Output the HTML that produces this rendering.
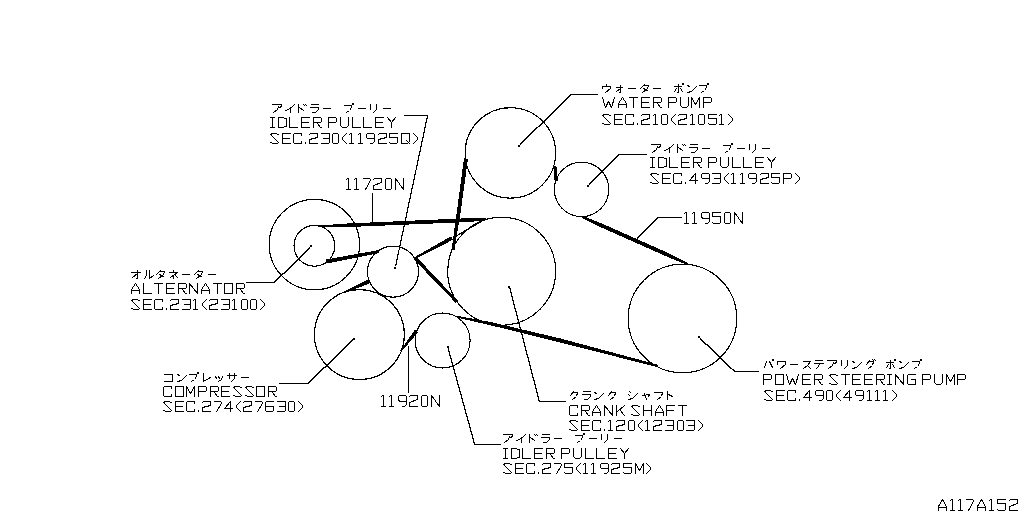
<!DOCTYPE html><html><head><meta charset="utf-8"><style>html,body{margin:0;padding:0;background:#fff;width:1024px;height:512px;overflow:hidden;font-family:"Liberation Sans",sans-serif;}svg{display:block}</style></head><body>
<svg width="1024" height="512" viewBox="0 0 1024 512">
<rect width="1024" height="512" fill="#fff"/>
<g fill="none" stroke="#000" stroke-width="1.15" shape-rendering="crispEdges">
<circle cx="314.4" cy="244.6" r="45.2"/>
<circle cx="314.4" cy="245.8" r="20.4"/>
<circle cx="393" cy="271.7" r="25.5"/>
<circle cx="510.4" cy="152.9" r="45.2"/>
<circle cx="581.6" cy="189.4" r="27.2"/>
<circle cx="501.7" cy="271.2" r="54"/>
<circle cx="682.5" cy="318.5" r="54.3"/>
<circle cx="359.4" cy="334.6" r="45"/>
<circle cx="442.6" cy="340.5" r="27.5"/>
</g>
<g fill="none" stroke="#000" stroke-width="1.45" shape-rendering="crispEdges">
<line x1="404" y1="115.5" x2="427.6" y2="115.5" stroke-width="1.000" stroke-linecap="square"/>
<line x1="427.6" y1="115.5" x2="395.757" y2="265.348" stroke-width="1.186" stroke-linecap="square"/>
<line x1="597.5" y1="94.5" x2="570.9" y2="94.5" stroke-width="1.000" stroke-linecap="square"/>
<line x1="570.9" y1="94.5" x2="520.465" y2="144.353" stroke-width="1.414" stroke-linecap="square"/>
<line x1="646.8" y1="154.5" x2="619.2" y2="154.5" stroke-width="1.000" stroke-linecap="square"/>
<line x1="619.2" y1="154.5" x2="589.361" y2="184.149" stroke-width="1.414" stroke-linecap="square"/>
<line x1="681.7" y1="217.5" x2="658.3" y2="217.5" stroke-width="1.000" stroke-linecap="square"/>
<line x1="658.3" y1="217.5" x2="637.2" y2="238" stroke-width="1.414" stroke-linecap="square"/>
<line x1="372.5" y1="193.5" x2="372.5" y2="221.8" stroke-width="1.000" stroke-linecap="square"/>
<line x1="246.2" y1="282.5" x2="274.4" y2="282.5" stroke-width="1.000" stroke-linecap="square"/>
<line x1="274.4" y1="282.5" x2="309.534" y2="247.845" stroke-width="1.414" stroke-linecap="square"/>
<line x1="279.2" y1="383.5" x2="308.2" y2="383.5" stroke-width="1.000" stroke-linecap="square"/>
<line x1="308.2" y1="383.5" x2="352.329" y2="340.24" stroke-width="1.414" stroke-linecap="square"/>
<line x1="408.5" y1="346" x2="408.5" y2="392.3" stroke-width="1.000" stroke-linecap="square"/>
<line x1="500.5" y1="444.5" x2="474.7" y2="444.5" stroke-width="1.000" stroke-linecap="square"/>
<line x1="474.7" y1="444.5" x2="448.285" y2="348.721" stroke-width="1.230" stroke-linecap="square"/>
<line x1="565.6" y1="401.5" x2="539.4" y2="401.5" stroke-width="1.000" stroke-linecap="square"/>
<line x1="539.4" y1="401.5" x2="509.956" y2="288.729" stroke-width="1.220" stroke-linecap="square"/>
<line x1="758.7" y1="371.5" x2="734.6" y2="371.5" stroke-width="1.000" stroke-linecap="square"/>
<line x1="734.6" y1="371.5" x2="700.386" y2="338.624" stroke-width="1.414" stroke-linecap="square"/>
</g>
<g fill="#000" stroke="none" shape-rendering="crispEdges">
<polygon points="318.04,227.40 345.08,227.20 468.08,222.00 486.05,220.40 485.95,218.20 467.92,218.20 344.92,223.60 317.96,225.60"/>
<polygon points="326.87,263.46 379.28,252.97 378.72,250.03 326.13,259.54"/>
<polygon points="415.48,258.88 452.95,239.76 451.05,236.24 414.52,257.12"/>
<polygon points="413.70,259.24 455.91,303.04 458.09,300.96 416.30,256.76"/>
<polygon points="464.02,158.23 457.12,209.73 451.52,249.78 454.48,250.22 460.88,210.27 467.98,158.77"/>
<polygon points="455.83,237.06 484.33,220.36 483.67,219.24 455.17,235.94"/>
<polygon points="553.21,166.15 554.61,181.15 557.79,180.85 556.39,165.85"/>
<polygon points="582.05,218.00 599.23,226.54 669.23,257.64 687.55,265.00 688.45,263.00 670.77,254.16 600.77,223.06 582.95,216.00"/>
<polygon points="454.84,317.08 489.64,325.06 559.51,342.34 657.70,367.16 658.30,364.84 560.49,338.46 490.36,321.94 455.16,315.52"/>
<polygon points="345.32,292.73 369.80,283.33 368.20,279.67 344.68,291.27"/>
<polygon points="401.63,351.49 418.08,332.23 414.92,329.77 400.37,350.51"/>
</g>
<g fill="#000" shape-rendering="crispEdges">
<rect x="394" y="267" width="2" height="2"/>
<rect x="518" y="145" width="2" height="2"/>
<rect x="587" y="185" width="2" height="2"/>
<rect x="310" y="245" width="2" height="2"/>
<rect x="353" y="338" width="2" height="2"/>
<rect x="447" y="346" width="2" height="2"/>
<rect x="508" y="286" width="2" height="2"/>
<rect x="698" y="336" width="2" height="2"/>
</g>
<path fill="none" stroke="#000" stroke-width="1" stroke-linecap="square" stroke-linejoin="bevel" shape-rendering="crispEdges" d="M272.5 104.5 L281.5 104.5 L281.5 106.5 L279.5 107.5 M278.5 106.5 L277.5 109.5 L273.5 112.5 M294.5 104.5 L290.5 108.5 L285.5 110.5 M290.5 107.5 L290.5 112.5 M298.5 104.5 L298.5 112.5 M299.5 107.5 L303.5 110.5 M303.5 104.5 L304.5 105.5 M305.5 104.5 L306.5 105.5 M311.5 104.5 L318.5 104.5 M310.5 107.5 L318.5 107.5 L318.5 109.5 L315.5 112.5 L312.5 112.5 M323.5 108.5 L330.5 108.5 M344.5 105.5 L351.5 105.5 L351.5 107.5 L349.5 110.5 L346.5 112.5 M352.5 103.5 L353.5 103.5 L353.5 104.5 L352.5 104.5 L352.5 103.5 M358.5 108.5 L365.5 108.5 M370.5 104.5 L370.5 109.5 M376.5 104.5 L376.5 109.5 L373.5 112.5 M383.5 108.5 L390.5 108.5 M270.5 117.5 L274.5 117.5 M272.5 117.5 L272.5 127.5 M270.5 127.5 L274.5 127.5 M278.5 117.5 L283.5 117.5 L284.5 118.5 L286.5 118.5 L286.5 126.5 L284.5 126.5 L283.5 127.5 L278.5 127.5 L278.5 117.5 M289.5 117.5 L289.5 127.5 L297.5 127.5 M309.5 117.5 L301.5 117.5 L301.5 127.5 L309.5 127.5 M301.5 122.5 L308.5 122.5 M313.5 127.5 L313.5 117.5 L320.5 117.5 L321.5 118.5 L321.5 121.5 L320.5 122.5 L313.5 122.5 M317.5 123.5 L320.5 127.5 L321.5 127.5 M328.5 127.5 L328.5 117.5 L335.5 117.5 L336.5 118.5 L336.5 121.5 L335.5 122.5 L328.5 122.5 M340.5 117.5 L340.5 125.5 L342.5 127.5 L346.5 127.5 L348.5 125.5 L348.5 117.5 M352.5 117.5 L352.5 127.5 L360.5 127.5 M363.5 117.5 L363.5 127.5 L371.5 127.5 M383.5 117.5 L375.5 117.5 L375.5 127.5 L383.5 127.5 M375.5 122.5 L382.5 122.5 M387.5 117.5 L391.5 122.5 L395.5 117.5 M391.5 122.5 L391.5 127.5 M278.5 134.5 L277.5 134.5 M276.5 133.5 L272.5 133.5 L270.5 134.5 L271.5 135.5 L277.5 141.5 L278.5 142.5 L277.5 143.5 L272.5 143.5 M270.5 142.5 L271.5 142.5 M290.5 133.5 L282.5 133.5 L282.5 143.5 L290.5 143.5 M282.5 138.5 L289.5 138.5 M301.5 135.5 L301.5 133.5 L294.5 133.5 L293.5 134.5 L293.5 142.5 L294.5 143.5 L301.5 143.5 L301.5 141.5 M305.5 142.5 L305.5 143.5 M309.5 134.5 L310.5 133.5 L317.5 133.5 L317.5 137.5 L309.5 139.5 L309.5 143.5 L317.5 143.5 M321.5 133.5 L329.5 133.5 L329.5 142.5 L328.5 143.5 L321.5 143.5 M323.5 138.5 L329.5 138.5 M333.5 133.5 L337.5 133.5 L338.5 134.5 L338.5 142.5 L337.5 143.5 L333.5 143.5 L332.5 142.5 L332.5 134.5 L333.5 133.5 M346.5 133.5 L342.5 137.5 L342.5 139.5 L346.5 143.5 M349.5 134.5 L350.5 133.5 L351.5 133.5 L351.5 143.5 M349.5 143.5 L353.5 143.5 M358.5 134.5 L359.5 133.5 L360.5 133.5 L360.5 143.5 M358.5 143.5 L362.5 143.5 M367.5 133.5 L373.5 133.5 L374.5 134.5 L374.5 141.5 L372.5 143.5 L370.5 143.5 M367.5 133.5 L366.5 134.5 L366.5 137.5 L367.5 138.5 L374.5 138.5 M378.5 134.5 L379.5 133.5 L386.5 133.5 L386.5 137.5 L378.5 139.5 L378.5 143.5 L386.5 143.5 M397.5 133.5 L389.5 133.5 L389.5 137.5 L397.5 137.5 L397.5 142.5 L396.5 143.5 L390.5 143.5 L389.5 142.5 M401.5 133.5 L409.5 133.5 L409.5 141.5 L407.5 143.5 L401.5 143.5 L401.5 133.5 M406.5 140.5 L409.5 143.5 M413.5 133.5 L417.5 137.5 L417.5 139.5 L413.5 143.5 M606.5 84.5 L606.5 85.5 M602.5 88.5 L602.5 86.5 L610.5 86.5 L610.5 88.5 L605.5 92.5 M616.5 87.5 L622.5 87.5 M620.5 85.5 L620.5 92.5 L619.5 92.5 M620.5 88.5 L616.5 91.5 M628.5 88.5 L635.5 88.5 M644.5 84.5 L640.5 88.5 M643.5 85.5 L648.5 85.5 L647.5 88.5 L642.5 92.5 M643.5 88.5 L647.5 90.5 M653.5 88.5 L660.5 88.5 M674.5 86.5 L681.5 86.5 M678.5 84.5 L678.5 92.5 L677.5 92.5 M676.5 88.5 L674.5 91.5 M680.5 88.5 L682.5 91.5 M682.5 83.5 L683.5 83.5 L683.5 84.5 L682.5 84.5 L682.5 83.5 M687.5 85.5 L689.5 86.5 M687.5 92.5 L691.5 91.5 L696.5 86.5 M699.5 85.5 L706.5 85.5 L706.5 87.5 L704.5 90.5 L701.5 92.5 M707.5 83.5 L708.5 83.5 L708.5 84.5 L707.5 84.5 L707.5 83.5 M602.5 97.5 L605.5 107.5 L608.5 101.5 L611.5 107.5 L614.5 97.5 M618.5 107.5 L618.5 103.5 L622.5 97.5 L626.5 103.5 L626.5 107.5 M618.5 104.5 L626.5 104.5 M629.5 97.5 L637.5 97.5 M633.5 97.5 L633.5 107.5 M649.5 97.5 L641.5 97.5 L641.5 107.5 L649.5 107.5 M641.5 102.5 L648.5 102.5 M653.5 107.5 L653.5 97.5 L660.5 97.5 L661.5 98.5 L661.5 101.5 L660.5 102.5 L653.5 102.5 M657.5 103.5 L660.5 107.5 L661.5 107.5 M668.5 107.5 L668.5 97.5 L675.5 97.5 L676.5 98.5 L676.5 101.5 L675.5 102.5 L668.5 102.5 M680.5 97.5 L680.5 105.5 L682.5 107.5 L686.5 107.5 L688.5 105.5 L688.5 97.5 M691.5 107.5 L691.5 97.5 L695.5 104.5 L699.5 97.5 L699.5 107.5 M703.5 107.5 L703.5 97.5 L710.5 97.5 L711.5 98.5 L711.5 101.5 L710.5 102.5 L703.5 102.5 M610.5 115.5 L609.5 115.5 M608.5 114.5 L604.5 114.5 L602.5 115.5 L603.5 116.5 L609.5 122.5 L610.5 123.5 L609.5 124.5 L604.5 124.5 M602.5 123.5 L603.5 123.5 M622.5 114.5 L614.5 114.5 L614.5 124.5 L622.5 124.5 M614.5 119.5 L621.5 119.5 M633.5 116.5 L633.5 114.5 L626.5 114.5 L625.5 115.5 L625.5 123.5 L626.5 124.5 L633.5 124.5 L633.5 122.5 M637.5 123.5 L637.5 124.5 M641.5 115.5 L642.5 114.5 L649.5 114.5 L649.5 118.5 L641.5 120.5 L641.5 124.5 L649.5 124.5 M653.5 115.5 L654.5 114.5 L655.5 114.5 L655.5 124.5 M653.5 124.5 L657.5 124.5 M662.5 114.5 L666.5 114.5 L667.5 115.5 L667.5 123.5 L666.5 124.5 L662.5 124.5 L661.5 123.5 L661.5 115.5 L662.5 114.5 M675.5 114.5 L671.5 118.5 L671.5 120.5 L675.5 124.5 M678.5 115.5 L679.5 114.5 L686.5 114.5 L686.5 118.5 L678.5 120.5 L678.5 124.5 L686.5 124.5 M690.5 115.5 L691.5 114.5 L692.5 114.5 L692.5 124.5 M690.5 124.5 L694.5 124.5 M699.5 114.5 L703.5 114.5 L704.5 115.5 L704.5 123.5 L703.5 124.5 L699.5 124.5 L698.5 123.5 L698.5 115.5 L699.5 114.5 M716.5 114.5 L708.5 114.5 L708.5 118.5 L716.5 118.5 L716.5 123.5 L715.5 124.5 L709.5 124.5 L708.5 123.5 M719.5 115.5 L720.5 114.5 L721.5 114.5 L721.5 124.5 M719.5 124.5 L723.5 124.5 M728.5 114.5 L732.5 118.5 L732.5 120.5 L728.5 124.5 M651.5 144.5 L660.5 144.5 L660.5 146.5 L658.5 147.5 M657.5 146.5 L656.5 149.5 L652.5 152.5 M673.5 144.5 L669.5 148.5 L664.5 150.5 M669.5 147.5 L669.5 152.5 M677.5 144.5 L677.5 152.5 M678.5 147.5 L682.5 150.5 M682.5 144.5 L683.5 145.5 M684.5 144.5 L685.5 145.5 M690.5 144.5 L697.5 144.5 M689.5 147.5 L697.5 147.5 L697.5 149.5 L694.5 152.5 L691.5 152.5 M702.5 148.5 L709.5 148.5 M723.5 145.5 L730.5 145.5 L730.5 147.5 L728.5 150.5 L725.5 152.5 M731.5 143.5 L732.5 143.5 L732.5 144.5 L731.5 144.5 L731.5 143.5 M737.5 148.5 L744.5 148.5 M749.5 144.5 L749.5 149.5 M755.5 144.5 L755.5 149.5 L752.5 152.5 M762.5 148.5 L769.5 148.5 M650.5 157.5 L654.5 157.5 M652.5 157.5 L652.5 167.5 M650.5 167.5 L654.5 167.5 M658.5 157.5 L663.5 157.5 L664.5 158.5 L666.5 158.5 L666.5 166.5 L664.5 166.5 L663.5 167.5 L658.5 167.5 L658.5 157.5 M669.5 157.5 L669.5 167.5 L677.5 167.5 M689.5 157.5 L681.5 157.5 L681.5 167.5 L689.5 167.5 M681.5 162.5 L688.5 162.5 M693.5 167.5 L693.5 157.5 L700.5 157.5 L701.5 158.5 L701.5 161.5 L700.5 162.5 L693.5 162.5 M697.5 163.5 L700.5 167.5 L701.5 167.5 M708.5 167.5 L708.5 157.5 L715.5 157.5 L716.5 158.5 L716.5 161.5 L715.5 162.5 L708.5 162.5 M720.5 157.5 L720.5 165.5 L722.5 167.5 L726.5 167.5 L728.5 165.5 L728.5 157.5 M732.5 157.5 L732.5 167.5 L740.5 167.5 M743.5 157.5 L743.5 167.5 L751.5 167.5 M763.5 157.5 L755.5 157.5 L755.5 167.5 L763.5 167.5 M755.5 162.5 L762.5 162.5 M767.5 157.5 L771.5 162.5 L775.5 157.5 M771.5 162.5 L771.5 167.5 M658.5 174.5 L657.5 174.5 M656.5 173.5 L652.5 173.5 L650.5 174.5 L651.5 175.5 L657.5 181.5 L658.5 182.5 L657.5 183.5 L652.5 183.5 M650.5 182.5 L651.5 182.5 M670.5 173.5 L662.5 173.5 L662.5 183.5 L670.5 183.5 M662.5 178.5 L669.5 178.5 M681.5 175.5 L681.5 173.5 L674.5 173.5 L673.5 174.5 L673.5 182.5 L674.5 183.5 L681.5 183.5 L681.5 181.5 M685.5 182.5 L685.5 183.5 M695.5 173.5 L689.5 180.5 L697.5 180.5 M695.5 174.5 L695.5 183.5 M702.5 173.5 L708.5 173.5 L709.5 174.5 L709.5 181.5 L707.5 183.5 L705.5 183.5 M702.5 173.5 L701.5 174.5 L701.5 177.5 L702.5 178.5 L709.5 178.5 M712.5 173.5 L720.5 173.5 L720.5 182.5 L719.5 183.5 L712.5 183.5 M714.5 178.5 L720.5 178.5 M728.5 173.5 L724.5 177.5 L724.5 179.5 L728.5 183.5 M731.5 174.5 L732.5 173.5 L733.5 173.5 L733.5 183.5 M731.5 183.5 L735.5 183.5 M740.5 174.5 L741.5 173.5 L742.5 173.5 L742.5 183.5 M740.5 183.5 L744.5 183.5 M749.5 173.5 L755.5 173.5 L756.5 174.5 L756.5 181.5 L754.5 183.5 L752.5 183.5 M749.5 173.5 L748.5 174.5 L748.5 177.5 L749.5 178.5 L756.5 178.5 M760.5 174.5 L761.5 173.5 L768.5 173.5 L768.5 177.5 L760.5 179.5 L760.5 183.5 L768.5 183.5 M779.5 173.5 L771.5 173.5 L771.5 177.5 L779.5 177.5 L779.5 182.5 L778.5 183.5 L772.5 183.5 L771.5 182.5 M783.5 183.5 L783.5 173.5 L790.5 173.5 L791.5 174.5 L791.5 177.5 L790.5 178.5 L783.5 178.5 M795.5 173.5 L799.5 177.5 L799.5 179.5 L795.5 183.5 M131.5 272.5 L140.5 272.5 M137.5 270.5 L137.5 278.5 L136.5 278.5 M137.5 273.5 L132.5 277.5 M146.5 270.5 L146.5 275.5 L144.5 278.5 M149.5 270.5 L149.5 278.5 L153.5 275.5 M160.5 270.5 L156.5 274.5 M159.5 271.5 L164.5 271.5 L163.5 274.5 L158.5 278.5 M159.5 274.5 L163.5 276.5 M173.5 270.5 L173.5 271.5 M169.5 272.5 L177.5 272.5 L170.5 277.5 M173.5 275.5 L173.5 278.5 M175.5 275.5 L177.5 277.5 M182.5 274.5 L189.5 274.5 M198.5 270.5 L194.5 274.5 M197.5 271.5 L202.5 271.5 L201.5 274.5 L196.5 278.5 M197.5 274.5 L201.5 276.5 M208.5 274.5 L215.5 274.5 M131.5 293.5 L131.5 289.5 L135.5 283.5 L139.5 289.5 L139.5 293.5 M131.5 290.5 L139.5 290.5 M143.5 283.5 L143.5 293.5 L151.5 293.5 M154.5 283.5 L162.5 283.5 M158.5 283.5 L158.5 293.5 M174.5 283.5 L166.5 283.5 L166.5 293.5 L174.5 293.5 M166.5 288.5 L173.5 288.5 M178.5 293.5 L178.5 283.5 L185.5 283.5 L186.5 284.5 L186.5 287.5 L185.5 288.5 L178.5 288.5 M182.5 289.5 L185.5 293.5 L186.5 293.5 M189.5 293.5 L189.5 283.5 L197.5 293.5 L197.5 283.5 M201.5 293.5 L201.5 289.5 L205.5 283.5 L209.5 289.5 L209.5 293.5 M201.5 290.5 L209.5 290.5 M213.5 283.5 L221.5 283.5 M217.5 283.5 L217.5 293.5 M224.5 283.5 L232.5 283.5 L232.5 293.5 L224.5 293.5 L224.5 283.5 M236.5 293.5 L236.5 283.5 L243.5 283.5 L244.5 284.5 L244.5 287.5 L243.5 288.5 L236.5 288.5 M240.5 289.5 L243.5 293.5 L244.5 293.5 M139.5 300.5 L138.5 300.5 M137.5 299.5 L133.5 299.5 L131.5 300.5 L132.5 301.5 L138.5 307.5 L139.5 308.5 L138.5 309.5 L133.5 309.5 M131.5 308.5 L132.5 308.5 M151.5 299.5 L143.5 299.5 L143.5 309.5 L151.5 309.5 M143.5 304.5 L150.5 304.5 M162.5 301.5 L162.5 299.5 L155.5 299.5 L154.5 300.5 L154.5 308.5 L155.5 309.5 L162.5 309.5 L162.5 307.5 M166.5 308.5 L166.5 309.5 M170.5 300.5 L171.5 299.5 L178.5 299.5 L178.5 303.5 L170.5 305.5 L170.5 309.5 L178.5 309.5 M182.5 299.5 L190.5 299.5 L190.5 308.5 L189.5 309.5 L182.5 309.5 M184.5 304.5 L190.5 304.5 M193.5 300.5 L194.5 299.5 L195.5 299.5 L195.5 309.5 M193.5 309.5 L197.5 309.5 M206.5 299.5 L202.5 303.5 L202.5 305.5 L206.5 309.5 M209.5 300.5 L210.5 299.5 L217.5 299.5 L217.5 303.5 L209.5 305.5 L209.5 309.5 L217.5 309.5 M221.5 299.5 L229.5 299.5 L229.5 308.5 L228.5 309.5 L221.5 309.5 M223.5 304.5 L229.5 304.5 M232.5 300.5 L233.5 299.5 L234.5 299.5 L234.5 309.5 M232.5 309.5 L236.5 309.5 M242.5 299.5 L246.5 299.5 L247.5 300.5 L247.5 308.5 L246.5 309.5 L242.5 309.5 L241.5 308.5 L241.5 300.5 L242.5 299.5 M251.5 299.5 L255.5 299.5 L256.5 300.5 L256.5 308.5 L255.5 309.5 L251.5 309.5 L250.5 308.5 L250.5 300.5 L251.5 299.5 M260.5 299.5 L264.5 303.5 L264.5 305.5 L260.5 309.5 M164.5 374.5 L172.5 374.5 L172.5 381.5 L164.5 381.5 M177.5 374.5 L179.5 375.5 M177.5 381.5 L181.5 380.5 L186.5 375.5 M189.5 374.5 L196.5 374.5 L196.5 376.5 L194.5 379.5 L191.5 381.5 M197.5 372.5 L198.5 372.5 L198.5 373.5 L197.5 373.5 L197.5 372.5 M203.5 373.5 L203.5 381.5 L210.5 377.5 M215.5 376.5 L216.5 378.5 M218.5 376.5 L219.5 378.5 M222.5 376.5 L221.5 379.5 L218.5 381.5 M227.5 375.5 L236.5 375.5 M229.5 373.5 L229.5 378.5 M234.5 373.5 L234.5 378.5 L231.5 381.5 M241.5 377.5 L248.5 377.5 M171.5 388.5 L171.5 386.5 L164.5 386.5 L163.5 387.5 L163.5 395.5 L164.5 396.5 L171.5 396.5 L171.5 394.5 M175.5 386.5 L183.5 386.5 L183.5 396.5 L175.5 396.5 L175.5 386.5 M186.5 396.5 L186.5 386.5 L190.5 393.5 L194.5 386.5 L194.5 396.5 M198.5 396.5 L198.5 386.5 L205.5 386.5 L206.5 387.5 L206.5 390.5 L205.5 391.5 L198.5 391.5 M210.5 396.5 L210.5 386.5 L217.5 386.5 L218.5 387.5 L218.5 390.5 L217.5 391.5 L210.5 391.5 M214.5 392.5 L217.5 396.5 L218.5 396.5 M229.5 386.5 L221.5 386.5 L221.5 396.5 L229.5 396.5 M221.5 391.5 L228.5 391.5 M241.5 387.5 L240.5 387.5 M239.5 386.5 L235.5 386.5 L233.5 387.5 L234.5 388.5 L240.5 394.5 L241.5 395.5 L240.5 396.5 L235.5 396.5 M233.5 395.5 L234.5 395.5 M253.5 387.5 L252.5 387.5 M251.5 386.5 L247.5 386.5 L245.5 387.5 L246.5 388.5 L252.5 394.5 L253.5 395.5 L252.5 396.5 L247.5 396.5 M245.5 395.5 L246.5 395.5 M256.5 386.5 L264.5 386.5 L264.5 396.5 L256.5 396.5 L256.5 386.5 M268.5 396.5 L268.5 386.5 L275.5 386.5 L276.5 387.5 L276.5 390.5 L275.5 391.5 L268.5 391.5 M272.5 392.5 L275.5 396.5 L276.5 396.5 M171.5 402.5 L170.5 402.5 M169.5 401.5 L165.5 401.5 L163.5 402.5 L164.5 403.5 L170.5 409.5 L171.5 410.5 L170.5 411.5 L165.5 411.5 M163.5 410.5 L164.5 410.5 M183.5 401.5 L175.5 401.5 L175.5 411.5 L183.5 411.5 M175.5 406.5 L182.5 406.5 M194.5 403.5 L194.5 401.5 L187.5 401.5 L186.5 402.5 L186.5 410.5 L187.5 411.5 L194.5 411.5 L194.5 409.5 M198.5 410.5 L198.5 411.5 M202.5 402.5 L203.5 401.5 L210.5 401.5 L210.5 405.5 L202.5 407.5 L202.5 411.5 L210.5 411.5 M214.5 401.5 L220.5 401.5 L221.5 402.5 L221.5 403.5 L216.5 411.5 M230.5 401.5 L224.5 408.5 L232.5 408.5 M230.5 402.5 L230.5 411.5 M240.5 401.5 L236.5 405.5 L236.5 407.5 L240.5 411.5 M243.5 402.5 L244.5 401.5 L251.5 401.5 L251.5 405.5 L243.5 407.5 L243.5 411.5 L251.5 411.5 M255.5 401.5 L261.5 401.5 L262.5 402.5 L262.5 403.5 L257.5 411.5 M273.5 401.5 L266.5 401.5 L265.5 402.5 L265.5 410.5 L266.5 411.5 L272.5 411.5 L273.5 410.5 L273.5 406.5 L265.5 406.5 M277.5 401.5 L285.5 401.5 L285.5 410.5 L284.5 411.5 L277.5 411.5 M279.5 406.5 L285.5 406.5 M289.5 401.5 L293.5 401.5 L294.5 402.5 L294.5 410.5 L293.5 411.5 L289.5 411.5 L288.5 410.5 L288.5 402.5 L289.5 401.5 M298.5 401.5 L302.5 405.5 L302.5 407.5 L298.5 411.5 M573.5 391.5 L570.5 395.5 M572.5 392.5 L577.5 392.5 L576.5 396.5 L572.5 399.5 M583.5 391.5 L590.5 391.5 M582.5 394.5 L590.5 394.5 L590.5 396.5 L587.5 399.5 L584.5 399.5 M594.5 392.5 L596.5 393.5 M594.5 399.5 L598.5 398.5 L603.5 393.5 M611.5 391.5 L608.5 395.5 M610.5 392.5 L615.5 392.5 L614.5 396.5 L610.5 399.5 M629.5 391.5 L630.5 392.5 M628.5 394.5 L629.5 395.5 M628.5 399.5 L632.5 398.5 L637.5 393.5 M642.5 395.5 L649.5 394.5 L648.5 396.5 M644.5 393.5 L646.5 399.5 M654.5 392.5 L662.5 392.5 L661.5 396.5 L657.5 399.5 M667.5 391.5 L667.5 399.5 M668.5 394.5 L672.5 396.5 M577.5 407.5 L577.5 405.5 L570.5 405.5 L569.5 406.5 L569.5 414.5 L570.5 415.5 L577.5 415.5 L577.5 413.5 M581.5 415.5 L581.5 405.5 L588.5 405.5 L589.5 406.5 L589.5 409.5 L588.5 410.5 L581.5 410.5 M585.5 411.5 L588.5 415.5 L589.5 415.5 M592.5 415.5 L592.5 411.5 L596.5 405.5 L600.5 411.5 L600.5 415.5 M592.5 412.5 L600.5 412.5 M604.5 415.5 L604.5 405.5 L612.5 415.5 L612.5 405.5 M616.5 405.5 L616.5 415.5 M624.5 405.5 L617.5 411.5 M619.5 409.5 L624.5 415.5 M639.5 406.5 L638.5 406.5 M637.5 405.5 L633.5 405.5 L631.5 406.5 L632.5 407.5 L638.5 413.5 L639.5 414.5 L638.5 415.5 L633.5 415.5 M631.5 414.5 L632.5 414.5 M643.5 405.5 L643.5 415.5 M651.5 405.5 L651.5 415.5 M643.5 410.5 L651.5 410.5 M655.5 415.5 L655.5 411.5 L659.5 405.5 L663.5 411.5 L663.5 415.5 M655.5 412.5 L663.5 412.5 M674.5 405.5 L666.5 405.5 L666.5 415.5 M666.5 410.5 L673.5 410.5 M678.5 405.5 L686.5 405.5 M682.5 405.5 L682.5 415.5 M577.5 421.5 L576.5 421.5 M575.5 420.5 L571.5 420.5 L569.5 421.5 L570.5 422.5 L576.5 428.5 L577.5 429.5 L576.5 430.5 L571.5 430.5 M569.5 429.5 L570.5 429.5 M589.5 420.5 L581.5 420.5 L581.5 430.5 L589.5 430.5 M581.5 425.5 L588.5 425.5 M600.5 422.5 L600.5 420.5 L593.5 420.5 L592.5 421.5 L592.5 429.5 L593.5 430.5 L600.5 430.5 L600.5 428.5 M604.5 429.5 L604.5 430.5 M608.5 421.5 L609.5 420.5 L610.5 420.5 L610.5 430.5 M608.5 430.5 L612.5 430.5 M616.5 421.5 L617.5 420.5 L624.5 420.5 L624.5 424.5 L616.5 426.5 L616.5 430.5 L624.5 430.5 M629.5 420.5 L633.5 420.5 L634.5 421.5 L634.5 429.5 L633.5 430.5 L629.5 430.5 L628.5 429.5 L628.5 421.5 L629.5 420.5 M642.5 420.5 L638.5 424.5 L638.5 426.5 L642.5 430.5 M645.5 421.5 L646.5 420.5 L647.5 420.5 L647.5 430.5 M645.5 430.5 L649.5 430.5 M653.5 421.5 L654.5 420.5 L661.5 420.5 L661.5 424.5 L653.5 426.5 L653.5 430.5 L661.5 430.5 M665.5 420.5 L673.5 420.5 L673.5 429.5 L672.5 430.5 L665.5 430.5 M667.5 425.5 L673.5 425.5 M678.5 420.5 L682.5 420.5 L683.5 421.5 L683.5 429.5 L682.5 430.5 L678.5 430.5 L677.5 429.5 L677.5 421.5 L678.5 420.5 M686.5 420.5 L694.5 420.5 L694.5 429.5 L693.5 430.5 L686.5 430.5 M688.5 425.5 L694.5 425.5 M698.5 420.5 L702.5 424.5 L702.5 426.5 L698.5 430.5 M503.5 434.5 L512.5 434.5 L512.5 436.5 L510.5 437.5 M509.5 436.5 L508.5 439.5 L504.5 442.5 M525.5 434.5 L521.5 438.5 L516.5 440.5 M521.5 437.5 L521.5 442.5 M529.5 434.5 L529.5 442.5 M530.5 437.5 L534.5 440.5 M534.5 434.5 L535.5 435.5 M536.5 434.5 L537.5 435.5 M542.5 434.5 L549.5 434.5 M541.5 437.5 L549.5 437.5 L549.5 439.5 L546.5 442.5 L543.5 442.5 M554.5 438.5 L561.5 438.5 M575.5 435.5 L582.5 435.5 L582.5 437.5 L580.5 440.5 L577.5 442.5 M583.5 433.5 L584.5 433.5 L584.5 434.5 L583.5 434.5 L583.5 433.5 M589.5 438.5 L596.5 438.5 M601.5 434.5 L601.5 439.5 M607.5 434.5 L607.5 439.5 L604.5 442.5 M614.5 438.5 L621.5 438.5 M503.5 448.5 L507.5 448.5 M505.5 448.5 L505.5 458.5 M503.5 458.5 L507.5 458.5 M511.5 448.5 L516.5 448.5 L517.5 449.5 L519.5 449.5 L519.5 457.5 L517.5 457.5 L516.5 458.5 L511.5 458.5 L511.5 448.5 M522.5 448.5 L522.5 458.5 L530.5 458.5 M542.5 448.5 L534.5 448.5 L534.5 458.5 L542.5 458.5 M534.5 453.5 L541.5 453.5 M546.5 458.5 L546.5 448.5 L553.5 448.5 L554.5 449.5 L554.5 452.5 L553.5 453.5 L546.5 453.5 M550.5 454.5 L553.5 458.5 L554.5 458.5 M561.5 458.5 L561.5 448.5 L568.5 448.5 L569.5 449.5 L569.5 452.5 L568.5 453.5 L561.5 453.5 M573.5 448.5 L573.5 456.5 L575.5 458.5 L579.5 458.5 L581.5 456.5 L581.5 448.5 M585.5 448.5 L585.5 458.5 L593.5 458.5 M596.5 448.5 L596.5 458.5 L604.5 458.5 M616.5 448.5 L608.5 448.5 L608.5 458.5 L616.5 458.5 M608.5 453.5 L615.5 453.5 M620.5 448.5 L624.5 453.5 L628.5 448.5 M624.5 453.5 L624.5 458.5 M511.5 464.5 L510.5 464.5 M509.5 463.5 L505.5 463.5 L503.5 464.5 L504.5 465.5 L510.5 471.5 L511.5 472.5 L510.5 473.5 L505.5 473.5 M503.5 472.5 L504.5 472.5 M523.5 463.5 L515.5 463.5 L515.5 473.5 L523.5 473.5 M515.5 468.5 L522.5 468.5 M534.5 465.5 L534.5 463.5 L527.5 463.5 L526.5 464.5 L526.5 472.5 L527.5 473.5 L534.5 473.5 L534.5 471.5 M538.5 472.5 L538.5 473.5 M542.5 464.5 L543.5 463.5 L550.5 463.5 L550.5 467.5 L542.5 469.5 L542.5 473.5 L550.5 473.5 M554.5 463.5 L560.5 463.5 L561.5 464.5 L561.5 465.5 L556.5 473.5 M572.5 463.5 L564.5 463.5 L564.5 467.5 L572.5 467.5 L572.5 472.5 L571.5 473.5 L565.5 473.5 L564.5 472.5 M580.5 463.5 L576.5 467.5 L576.5 469.5 L580.5 473.5 M583.5 464.5 L584.5 463.5 L585.5 463.5 L585.5 473.5 M583.5 473.5 L587.5 473.5 M591.5 464.5 L592.5 463.5 L593.5 463.5 L593.5 473.5 M591.5 473.5 L595.5 473.5 M601.5 463.5 L607.5 463.5 L608.5 464.5 L608.5 471.5 L606.5 473.5 L604.5 473.5 M601.5 463.5 L600.5 464.5 L600.5 467.5 L601.5 468.5 L608.5 468.5 M611.5 464.5 L612.5 463.5 L619.5 463.5 L619.5 467.5 L611.5 469.5 L611.5 473.5 L619.5 473.5 M631.5 463.5 L623.5 463.5 L623.5 467.5 L631.5 467.5 L631.5 472.5 L630.5 473.5 L624.5 473.5 L623.5 472.5 M635.5 473.5 L635.5 463.5 L639.5 470.5 L643.5 463.5 L643.5 473.5 M646.5 463.5 L650.5 467.5 L650.5 469.5 L646.5 473.5 M766.5 361.5 L764.5 367.5 M769.5 361.5 L772.5 367.5 M772.5 359.5 L773.5 359.5 L773.5 360.5 L772.5 360.5 L772.5 359.5 M777.5 364.5 L777.5 361.5 L785.5 361.5 L785.5 364.5 L780.5 368.5 M790.5 364.5 L797.5 364.5 M803.5 361.5 L810.5 361.5 L807.5 365.5 L803.5 368.5 M807.5 365.5 L810.5 368.5 M815.5 360.5 L822.5 360.5 M814.5 363.5 L823.5 363.5 M819.5 363.5 L818.5 366.5 L816.5 368.5 M827.5 360.5 L836.5 360.5 L836.5 362.5 L834.5 363.5 M833.5 362.5 L832.5 365.5 L828.5 368.5 M841.5 360.5 L841.5 365.5 M847.5 360.5 L847.5 365.5 L844.5 368.5 M852.5 361.5 L854.5 362.5 M852.5 368.5 L856.5 367.5 L861.5 362.5 M869.5 360.5 L866.5 364.5 M868.5 361.5 L873.5 361.5 L872.5 365.5 L868.5 368.5 M872.5 359.5 L873.5 360.5 M874.5 359.5 L875.5 360.5 M886.5 362.5 L893.5 362.5 M890.5 360.5 L890.5 368.5 L889.5 368.5 M888.5 364.5 L886.5 367.5 M892.5 364.5 L894.5 367.5 M894.5 359.5 L895.5 359.5 L895.5 360.5 L894.5 360.5 L894.5 359.5 M899.5 361.5 L901.5 362.5 M899.5 368.5 L903.5 367.5 L908.5 362.5 M912.5 361.5 L919.5 361.5 L919.5 363.5 L917.5 366.5 L914.5 368.5 M920.5 359.5 L921.5 359.5 L921.5 360.5 L920.5 360.5 L920.5 359.5 M763.5 384.5 L763.5 374.5 L770.5 374.5 L771.5 375.5 L771.5 378.5 L770.5 379.5 L763.5 379.5 M775.5 374.5 L783.5 374.5 L783.5 384.5 L775.5 384.5 L775.5 374.5 M786.5 374.5 L789.5 384.5 L792.5 378.5 L795.5 384.5 L798.5 374.5 M810.5 374.5 L802.5 374.5 L802.5 384.5 L810.5 384.5 M802.5 379.5 L809.5 379.5 M814.5 384.5 L814.5 374.5 L821.5 374.5 L822.5 375.5 L822.5 378.5 L821.5 379.5 L814.5 379.5 M818.5 380.5 L821.5 384.5 L822.5 384.5 M837.5 375.5 L836.5 375.5 M835.5 374.5 L831.5 374.5 L829.5 375.5 L830.5 376.5 L836.5 382.5 L837.5 383.5 L836.5 384.5 L831.5 384.5 M829.5 383.5 L830.5 383.5 M841.5 374.5 L849.5 374.5 M845.5 374.5 L845.5 384.5 M860.5 374.5 L852.5 374.5 L852.5 384.5 L860.5 384.5 M852.5 379.5 L859.5 379.5 M872.5 374.5 L864.5 374.5 L864.5 384.5 L872.5 384.5 M864.5 379.5 L871.5 379.5 M876.5 384.5 L876.5 374.5 L883.5 374.5 L884.5 375.5 L884.5 378.5 L883.5 379.5 L876.5 379.5 M880.5 380.5 L883.5 384.5 L884.5 384.5 M887.5 374.5 L891.5 374.5 M889.5 374.5 L889.5 384.5 M887.5 384.5 L891.5 384.5 M895.5 384.5 L895.5 374.5 L903.5 384.5 L903.5 374.5 M915.5 374.5 L908.5 374.5 L907.5 375.5 L907.5 383.5 L908.5 384.5 L915.5 384.5 L915.5 379.5 L911.5 379.5 M922.5 384.5 L922.5 374.5 L929.5 374.5 L930.5 375.5 L930.5 378.5 L929.5 379.5 L922.5 379.5 M934.5 374.5 L934.5 382.5 L936.5 384.5 L940.5 384.5 L942.5 382.5 L942.5 374.5 M946.5 384.5 L946.5 374.5 L950.5 381.5 L954.5 374.5 L954.5 384.5 M957.5 384.5 L957.5 374.5 L964.5 374.5 L965.5 375.5 L965.5 378.5 L964.5 379.5 L957.5 379.5 M772.5 391.5 L771.5 391.5 M770.5 390.5 L766.5 390.5 L764.5 391.5 L765.5 392.5 L771.5 398.5 L772.5 399.5 L771.5 400.5 L766.5 400.5 M764.5 399.5 L765.5 399.5 M784.5 390.5 L776.5 390.5 L776.5 400.5 L784.5 400.5 M776.5 395.5 L783.5 395.5 M795.5 392.5 L795.5 390.5 L788.5 390.5 L787.5 391.5 L787.5 399.5 L788.5 400.5 L795.5 400.5 L795.5 398.5 M799.5 399.5 L799.5 400.5 M809.5 390.5 L803.5 397.5 L811.5 397.5 M809.5 391.5 L809.5 400.5 M816.5 390.5 L822.5 390.5 L823.5 391.5 L823.5 398.5 L821.5 400.5 L819.5 400.5 M816.5 390.5 L815.5 391.5 L815.5 394.5 L816.5 395.5 L823.5 395.5 M827.5 390.5 L831.5 390.5 L832.5 391.5 L832.5 399.5 L831.5 400.5 L827.5 400.5 L826.5 399.5 L826.5 391.5 L827.5 390.5 M840.5 390.5 L836.5 394.5 L836.5 396.5 L840.5 400.5 M849.5 390.5 L843.5 397.5 L851.5 397.5 M849.5 391.5 L849.5 400.5 M856.5 390.5 L862.5 390.5 L863.5 391.5 L863.5 398.5 L861.5 400.5 L859.5 400.5 M856.5 390.5 L855.5 391.5 L855.5 394.5 L856.5 395.5 L863.5 395.5 M867.5 391.5 L868.5 390.5 L869.5 390.5 L869.5 400.5 M867.5 400.5 L871.5 400.5 M875.5 391.5 L876.5 390.5 L877.5 390.5 L877.5 400.5 M875.5 400.5 L879.5 400.5 M883.5 391.5 L884.5 390.5 L885.5 390.5 L885.5 400.5 M883.5 400.5 L887.5 400.5 M892.5 390.5 L896.5 394.5 L896.5 396.5 L892.5 400.5 M346.5 179.5 L347.5 178.5 L348.5 178.5 L348.5 189.5 M346.5 189.5 L350.5 189.5 M354.5 179.5 L355.5 178.5 L356.5 178.5 L356.5 189.5 M354.5 189.5 L358.5 189.5 M363.5 178.5 L369.5 178.5 L370.5 179.5 L370.5 180.5 L365.5 189.5 M373.5 179.5 L374.5 178.5 L381.5 178.5 L381.5 182.5 L373.5 185.5 L373.5 189.5 L381.5 189.5 M386.5 178.5 L390.5 178.5 L391.5 179.5 L391.5 188.5 L390.5 189.5 L386.5 189.5 L385.5 188.5 L385.5 179.5 L386.5 178.5 M395.5 189.5 L395.5 178.5 L403.5 189.5 L403.5 178.5 M684.5 213.5 L685.5 212.5 L686.5 212.5 L686.5 223.5 M684.5 223.5 L688.5 223.5 M692.5 213.5 L693.5 212.5 L694.5 212.5 L694.5 223.5 M692.5 223.5 L696.5 223.5 M702.5 212.5 L708.5 212.5 L709.5 213.5 L709.5 221.5 L707.5 223.5 L705.5 223.5 M702.5 212.5 L701.5 213.5 L701.5 216.5 L702.5 218.5 L709.5 218.5 M720.5 212.5 L712.5 212.5 L712.5 216.5 L720.5 216.5 L720.5 222.5 L719.5 223.5 L713.5 223.5 L712.5 222.5 M725.5 212.5 L729.5 212.5 L730.5 213.5 L730.5 222.5 L729.5 223.5 L725.5 223.5 L724.5 222.5 L724.5 213.5 L725.5 212.5 M734.5 223.5 L734.5 212.5 L742.5 223.5 L742.5 212.5 M381.5 396.5 L382.5 395.5 L383.5 395.5 L383.5 406.5 M381.5 406.5 L385.5 406.5 M389.5 396.5 L390.5 395.5 L391.5 395.5 L391.5 406.5 M389.5 406.5 L393.5 406.5 M399.5 395.5 L405.5 395.5 L406.5 396.5 L406.5 404.5 L404.5 406.5 L402.5 406.5 M399.5 395.5 L398.5 396.5 L398.5 399.5 L399.5 401.5 L406.5 401.5 M409.5 396.5 L410.5 395.5 L417.5 395.5 L417.5 399.5 L409.5 402.5 L409.5 406.5 L417.5 406.5 M422.5 395.5 L426.5 395.5 L427.5 396.5 L427.5 405.5 L426.5 406.5 L422.5 406.5 L421.5 405.5 L421.5 396.5 L422.5 395.5 M431.5 406.5 L431.5 395.5 L439.5 406.5 L439.5 395.5 M938.5 510.5 L938.5 506.5 L942.5 499.5 L946.5 506.5 L946.5 510.5 M938.5 507.5 L946.5 507.5 M950.5 500.5 L951.5 499.5 L952.5 499.5 L952.5 510.5 M950.5 510.5 L954.5 510.5 M958.5 500.5 L959.5 499.5 L960.5 499.5 L960.5 510.5 M958.5 510.5 L962.5 510.5 M966.5 499.5 L972.5 499.5 L973.5 500.5 L973.5 501.5 L968.5 510.5 M977.5 510.5 L977.5 506.5 L981.5 499.5 L985.5 506.5 L985.5 510.5 M977.5 507.5 L985.5 507.5 M989.5 500.5 L990.5 499.5 L991.5 499.5 L991.5 510.5 M989.5 510.5 L993.5 510.5 M1005.5 499.5 L997.5 499.5 L997.5 503.5 L1005.5 503.5 L1005.5 509.5 L1004.5 510.5 L998.5 510.5 L997.5 509.5 M1009.5 500.5 L1010.5 499.5 L1017.5 499.5 L1017.5 503.5 L1009.5 506.5 L1009.5 510.5 L1017.5 510.5"/>
</svg></body></html>
